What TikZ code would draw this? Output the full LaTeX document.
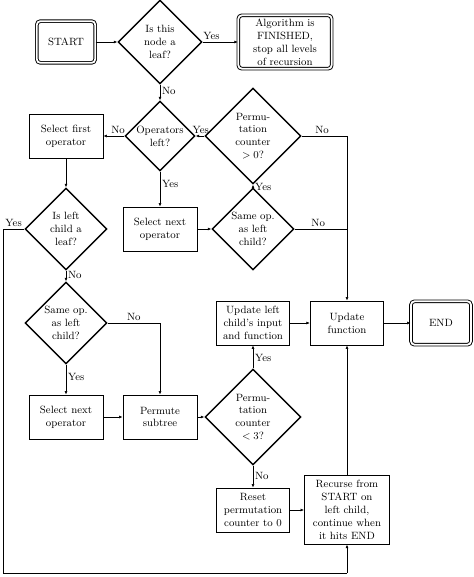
\documentclass[tikz,border=0pt]{standalone}
\usetikzlibrary{shapes.geometric,arrows.meta}
\begin{document}
\begin{tikzpicture}[x=0.03cm,y=-0.03cm,font=\small,
  box/.style={draw,line width=0.8pt,align=center,inner sep=1pt},
  dbox/.style={draw,double,double distance=1.5pt,line width=0.8pt,rounded corners=3pt,align=center,inner sep=1pt},
  dia/.style={draw,diamond,aspect=1,line width=1.2pt,align=center,inner sep=0pt},
  arr/.style={-{Latex[length=3pt,width=2.5pt]},line width=0.5pt},
  ln/.style={line width=0.5pt},
  lab/.style={inner sep=1.5pt}]
\useasboundingbox (0,0) rectangle (474,577);
\node[dbox,minimum width=1.75cm,minimum height=1.25cm] (start) at (66,42) {START};
\node[dia,minimum size=2.52cm] (leaf) at (160,42) {Is this\\node a\\leaf?};
\node[dbox,minimum width=2.8cm,minimum height=1.6cm] (fin) at (285,42) {Algorithm is\\FINISHED,\\stop all levels\\of recursion};
\node[dia,minimum size=2.1cm] (ops) at (160,136) {Operators\\left?};
\node[box,minimum width=2.22cm,minimum height=1.32cm] (sf) at (66,136) {Select first\\operator};
\node[dia,minimum size=2.88cm] (p0) at (253,136) {Permu-\\tation\\counter\\$>0$?};
\node[box,minimum width=2.22cm,minimum height=1.32cm] (sn1) at (160,229) {Select next\\operator};
\node[dia,minimum size=2.46cm] (so1) at (253,229) {Same op.\\as left\\child?};
\node[dia,minimum size=2.46cm] (ll) at (66,229) {Is left\\child a\\leaf?};
\node[dia,minimum size=2.46cm] (so2) at (66,323) {Same op.\\as left\\child?};
\node[box,minimum width=2.22cm,minimum height=1.32cm] (sn2) at (66,417) {Select next\\operator};
\node[box,minimum width=2.22cm,minimum height=1.32cm] (perm) at (160,417) {Permute\\subtree};
\node[dia,minimum size=2.88cm] (p3) at (253,417) {Permu-\\tation\\counter\\$<3$?};
\node[box,minimum width=2.2cm,minimum height=1.32cm] (ulc) at (253,323) {Update left\\child's input\\and function};
\node[box,minimum width=2.2cm,minimum height=1.32cm] (uf) at (347,323) {Update\\function};
\node[dbox,minimum width=1.8cm,minimum height=1.3cm] (end) at (441,323) {END};
\node[box,minimum width=2.2cm,minimum height=1.32cm] (reset) at (253,510) {Reset\\permutation\\counter to 0};
\node[box,minimum width=2.55cm,minimum height=2.05cm] (rec) at (347,510) {Recurse from\\START on\\left child,\\continue when\\it hits END};
\coordinate (c1) at (347,136);
\coordinate (c2) at (347,229);
\coordinate (c3) at (3,229);
\coordinate (c4) at (3,573);
\coordinate (c5) at (347,573);
\coordinate (c6) at (160,323);

\draw[arr] (start) -- (leaf);
\draw[arr] (leaf) -- node[lab,above,pos=0.25]{Yes} (fin);
\draw[arr] (leaf) -- node[lab,right,pos=0.4]{No} (ops);
\draw[arr] (ops) -- node[lab,above,pos=0.3]{No} (sf);
\draw[arr] (ops) -- node[lab,right,pos=0.35]{Yes} (sn1);
\draw[arr] (sn1) -- (so1);
\draw[arr] (so1) -- node[lab,right,pos=0.1]{Yes} (p0);
\draw[arr] (p0) -- node[lab,above,pos=0.4]{Yes} (ops);
\draw[ln] (p0) -- node[lab,above,pos=0.45]{No} (c1) -- (c2);
\draw[ln] (so1) -- node[lab,above,pos=0.45]{No} (c2);
\draw[arr] (c2) -- (uf);
\draw[arr] (sf) -- (ll);
\draw[ln] (ll) -- node[lab,above,pos=0.5]{Yes} (c3) -- (c4) -- (c5);
\draw[arr] (c5) -- (rec);
\draw[arr] (ll) -- node[lab,right,pos=0.4]{No} (so2);
\draw[arr] (so2) -- node[lab,right,pos=0.4]{Yes} (sn2);
\draw[ln] (so2) -- node[lab,above,pos=0.5]{No} (c6);
\draw[arr] (c6) -- (perm);
\draw[arr] (sn2) -- (perm);
\draw[arr] (perm) -- (p3);
\draw[arr] (p3) -- node[lab,right,pos=0.45]{Yes} (ulc);
\draw[arr] (p3) -- node[lab,right,pos=0.45]{No} (reset);
\draw[arr] (reset) -- (rec);
\draw[arr] (rec) -- (uf);
\draw[arr] (ulc) -- (uf);
\draw[arr] (uf) -- (end);
\end{tikzpicture}
\end{document}
